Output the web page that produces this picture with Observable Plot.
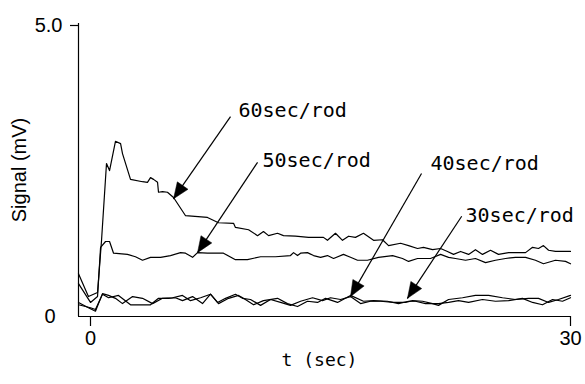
<!DOCTYPE html>
<html><head><meta charset="utf-8">
<script src="https://cdn.jsdelivr.net/npm/d3@7"></script>
<script src="https://cdn.jsdelivr.net/npm/@observablehq/plot@0.6"></script>
<style>body{margin:0;background:#fff} #chart{width:585px;height:384px}</style>
</head><body><div id="chart"></div>
<script>
// ---- data (t in sec, signal in mV) ----
const t60 = [-0.75,-0.13,0.44,0.69,1.0,1.19,1.56,1.88,2.0,2.5,3.25,3.56,3.75,3.94,4.19,4.25,4.5,4.81,5.19,5.94,7.31,8.0,8.94,9.06,9.88,10.44,10.81,11.13,11.69,12.06,12.81,13.63,14.56,14.81,15.31,15.75,16.13,16.56,17.06,17.69,18.25,18.63,19.38,19.88,20.44,20.81,21.38,21.88,22.31,22.69,23.13,23.63,24.06,24.5,25.0,25.5,26.13,27.19,27.63,28.0,28.31,28.63,29.06,30.0];
const v60 = [0.73,0.34,0.41,1.30,2.61,2.49,2.99,2.95,2.78,2.34,2.30,2.29,2.37,2.34,2.29,2.12,2.13,2.12,2.03,1.72,1.69,1.60,1.59,1.52,1.48,1.38,1.45,1.38,1.42,1.38,1.37,1.35,1.35,1.30,1.42,1.30,1.37,1.35,1.42,1.30,1.31,1.21,1.25,1.21,1.16,1.18,1.14,1.16,1.11,1.06,1.11,1.06,1.14,1.06,1.13,1.06,1.09,1.09,1.18,1.16,1.21,1.13,1.11,1.11];

const t50 = [-0.75,0,0.44,0.63,0.94,1.19,1.44,2.31,2.81,3.25,3.75,4.38,5.0,5.63,5.94,6.38,6.69,7.31,8.31,9.06,9.81,10.63,11.56,12.5,12.69,12.94,13.13,13.56,13.94,14.38,14.81,15.19,15.81,16.25,16.69,17.31,18.0,18.88,19.5,19.88,20.44,21.25,21.88,22.38,22.81,23.44,24.06,24.69,25.31,25.94,26.56,27.19,27.81,28.31,29.06,29.69,30.0];
const v50 = [0.56,0.24,0.34,1.18,1.28,1.28,1.08,1.06,1.02,0.96,1.01,1.01,1.04,1.09,1.08,1.01,1.09,1.08,1.08,0.97,0.97,1.02,1.02,1.04,1.09,1.04,1.08,1.09,1.04,1.01,1.04,0.99,1.06,1.01,0.96,0.96,1.01,1.04,0.99,0.94,0.99,0.99,1.06,1.01,0.99,0.96,0.99,0.92,0.96,0.99,1.01,1.01,0.96,0.90,0.96,0.94,0.90];

const t40 = [-0.75,-0.13,0.31,0.75,1.13,1.56,2.0,2.63,3.25,3.88,4.5,5.13,5.75,6.25,6.88,7.5,7.94,8.44,9.06,9.5,10.0,10.63,11.25,11.88,12.5,13.13,13.88,14.5,15.0,15.63,16.25,16.88,17.5,18.13,18.94,19.69,20.13,20.75,21.38,21.75,22.38,23.25,24.06,24.88,25.75,26.56,27.38,28.0,28.63,29.25,30.0];
const v40 = [0.24,0.15,0.09,0.39,0.36,0.31,0.22,0.34,0.31,0.22,0.31,0.32,0.36,0.27,0.32,0.38,0.24,0.31,0.38,0.31,0.29,0.19,0.29,0.24,0.19,0.26,0.32,0.27,0.32,0.29,0.34,0.22,0.26,0.26,0.24,0.24,0.27,0.26,0.22,0.19,0.29,0.32,0.36,0.36,0.32,0.29,0.31,0.31,0.24,0.29,0.36];

const t30 = [-0.75,0,0.31,0.75,1.13,1.75,2.5,3.13,3.75,4.25,4.88,5.31,5.75,6.38,7.0,7.5,8.0,8.63,9.25,9.56,10.19,10.81,11.69,12.31,12.94,13.56,14.19,14.69,15.44,16.25,17.06,17.69,18.56,19.25,19.88,20.31,20.94,21.75,22.38,23.0,23.63,24.5,25.31,26.13,27.0,27.63,28.25,28.88,29.5,30.0];
const v30 = [0.20,0.15,0.12,0.38,0.32,0.36,0.20,0.20,0.20,0.31,0.31,0.32,0.27,0.34,0.22,0.38,0.22,0.31,0.36,0.31,0.20,0.27,0.31,0.22,0.17,0.26,0.24,0.31,0.24,0.36,0.26,0.27,0.26,0.22,0.26,0.26,0.22,0.22,0.24,0.27,0.24,0.29,0.26,0.27,0.31,0.24,0.20,0.29,0.26,0.32];

// annotations: label position, arrow start, arrow tip (data units)
const annLabels = ["60sec/rod","50sec/rod","40sec/rod","30sec/rod"];
const annLabelT = [9.25, 10.75, 21.25, 23.44];
const annLabelV = [3.52, 2.66, 2.61, 1.72];
const annStartT = [8.75, 10.44, 20.69, 23.2];
const annStartV = [3.41, 2.63, 2.44, 1.71];
const annTipT   = [5.19, 6.69, 16.25, 19.81];
const annTipV   = [2.01, 1.09, 0.34, 0.31];

const xTicks = [0, 30];

// ---- layout ----
const W = 585, H = 384, mL = 78, mR = 15, mT = 23, mB = 68;
const xDomain = [-0.75, 30], yDomain = [0, 5];
const kx = (W - mL - mR) / (xDomain[1] - xDomain[0]);
const ky = (H - mT - mB) / (yDomain[1] - yDomain[0]);

const seriesDefs = [["60sec/rod", t60, v60], ["50sec/rod", t50, v50], ["40sec/rod", t40, v40], ["30sec/rod", t30, v30]];
const rows = seriesDefs.flatMap(([s, ts, vs]) => ts.map((t, i) => ({s, t, v: vs[i]})));

const ann = annLabels.map((label, i) => ({label, lt: annLabelT[i], lv: annLabelV[i], st: annStartT[i], sv: annStartV[i], et: annTipT[i], ev: annTipV[i]}));

// arrowhead triangles computed in pixel space from the arrow data
const headLen = 16, headHalf = 6.5;
const heads = ann.flatMap((a, i) => {
  const dx = (a.et - a.st) * kx, dy = -(a.ev - a.sv) * ky;
  const len = Math.hypot(dx, dy), ux = dx / len, uy = dy / len;
  const bx = -ux * headLen, by = -uy * headLen;
  const pts = [[0, 0], [bx - uy * headHalf, by + ux * headHalf], [bx + uy * headHalf, by - ux * headHalf], [0, 0]];
  return pts.map(([px, py]) => ({k: i, t: a.et + px / kx, v: a.ev - py / ky}));
});

const sans = "Liberation Sans, Arial, sans-serif";
const mono = "DejaVu Sans Mono, monospace";

const chart = Plot.plot({
  width: W, height: H,
  marginLeft: mL, marginRight: mR, marginTop: mT, marginBottom: mB,
  x: {domain: xDomain},
  y: {domain: yDomain},
  style: {fontFamily: sans, fontSize: "20px", color: "#000", background: "#fff"},
  marks: [
    Plot.ruleX([xDomain[0]], {stroke: "#000", strokeWidth: 1.2}),
    Plot.ruleY([0], {stroke: "#000", strokeWidth: 1.2}),
    Plot.axisY([5], {tickSize: 8, tickPadding: 8, tickFormat: d3.format(".1f"), label: null, fontSize: 20, strokeWidth: 1.2, dy: 2}),
    Plot.axisY([0], {tickSize: 0, tickPadding: 23, tickFormat: d => String(d), label: null, fontSize: 20}),
    Plot.axisX(xTicks, {tickSize: 10, tickPadding: 4, label: null, fontSize: 20, strokeWidth: 1.2}),
    Plot.text(["Signal (mV)"], {frameAnchor: "left", textAnchor: "middle", lineAnchor: "middle", rotate: -90, dx: -59, fontSize: 20, fontFamily: sans, fill: "#000"}),
    Plot.text(["t (sec)"], {frameAnchor: "bottom", textAnchor: "middle", lineAnchor: "middle", dx: -5, dy: 44, fontSize: 18, fontFamily: mono, fill: "#000"}),
    Plot.line(rows, {x: "t", y: "v", z: "s", stroke: "#000", strokeWidth: 1.2, curve: "linear"}),
    Plot.link(ann, {x1: "st", y1: "sv", x2: "et", y2: "ev", stroke: "#000", strokeWidth: 1.2}),
    Plot.line(heads, {x: "t", y: "v", z: "k", fill: "#000", stroke: "#000", strokeWidth: 0.5}),
    Plot.text(ann, {x: "lt", y: "lv", text: "label", textAnchor: "start", lineAnchor: "middle", fontSize: 20, fontFamily: mono, fill: "#000"})
  ]
});
document.getElementById("chart").append(chart);
</script></body></html>
